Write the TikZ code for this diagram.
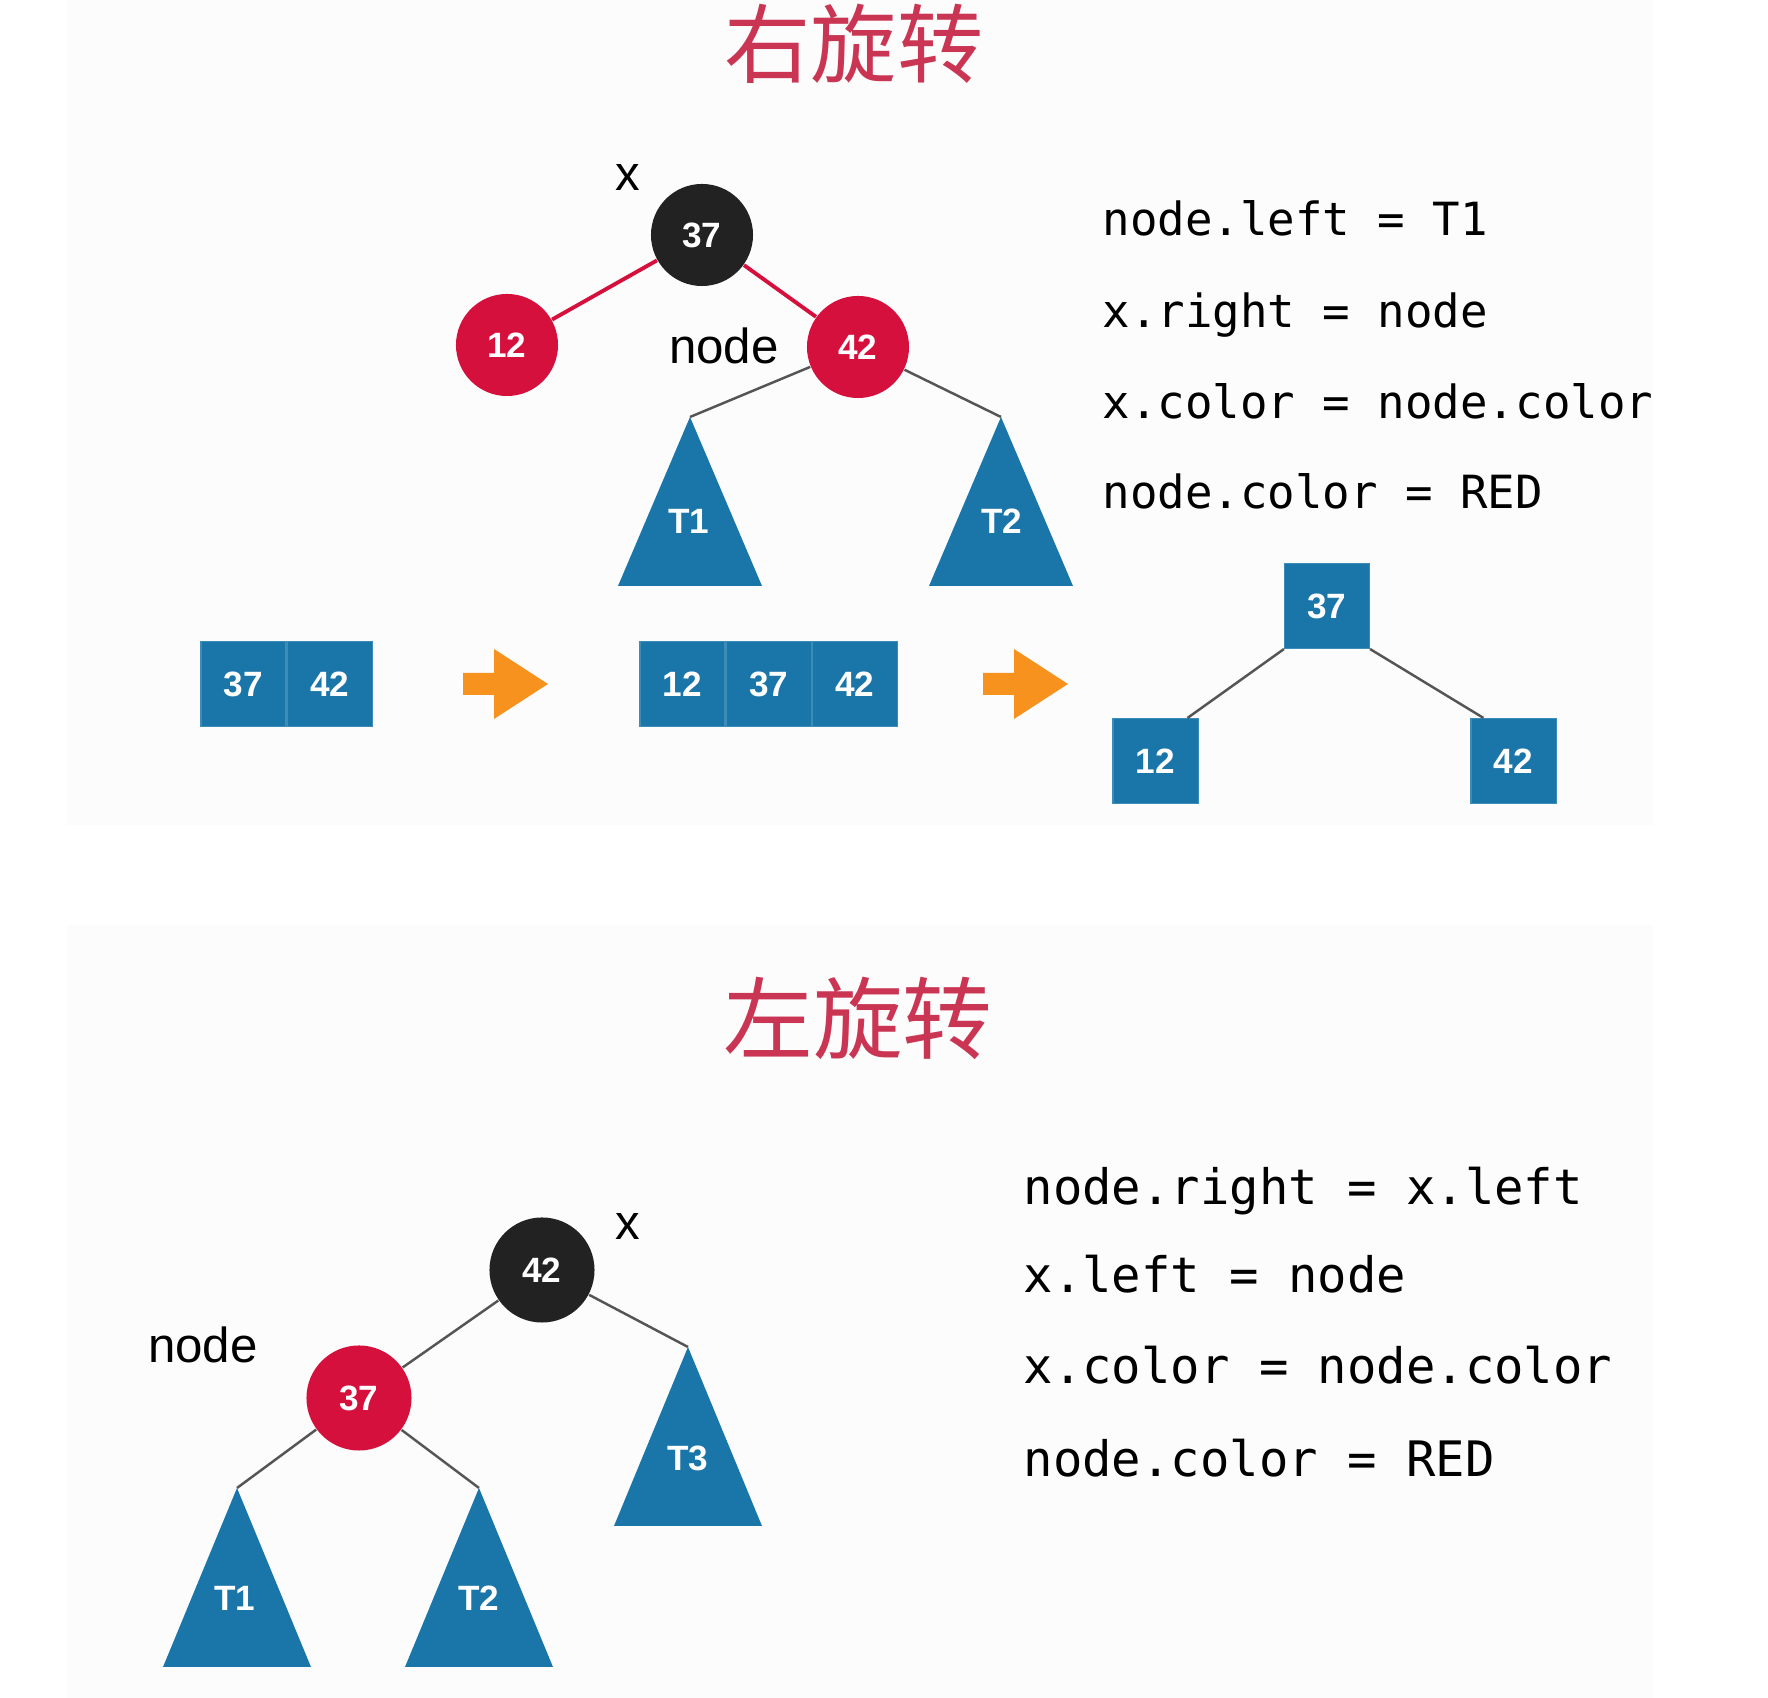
\documentclass[tikz,border=0pt]{standalone}
\usepackage{fontspec}
\setmainfont{Liberation Sans}
\newfontfamily\cjk{Noto Sans CJK SC}
\newfontfamily\mono{DejaVu Sans Mono}
\usetikzlibrary{calc,positioning}

\definecolor{rbred}{RGB}{214,16,60}
\definecolor{rbblack}{RGB}{34,34,34}
\definecolor{subblue}{RGB}{26,117,168}
\definecolor{cellline}{RGB}{60,140,185}
\definecolor{arrorange}{RGB}{247,146,30}
\definecolor{titlered}{RGB}{201,53,82}
\definecolor{edgegray}{RGB}{85,85,85}
\definecolor{panel}{RGB}{252,252,253}

\tikzset{
  rbnode/.style={circle, minimum size=1.02cm, inner sep=0pt, text=white,
    font=\fontsize{10}{12}\selectfont\bfseries},
  blacknode/.style={rbnode, fill=rbblack},
  rednode/.style={rbnode, fill=rbred},
  cell/.style={rectangle, fill=subblue, draw=cellline, line width=0.3pt,
    minimum size=0.85cm, inner sep=0pt, text=white,
    font=\fontsize{10}{12}\selectfont\bfseries},
  sublabel/.style={text=white, font=\fontsize{10}{12}\selectfont\bfseries},
  redge/.style={rbred, line width=1.1pt},
  gedge/.style={edgegray, line width=0.7pt},
  code/.style={anchor=base west, inner sep=0pt, font=\mono\fontsize{13}{16}\selectfont},
  titletext/.style={text=titlered, font=\cjk\fontsize{24.5}{28}\selectfont},
  lbl/.style={font=\fontsize{14}{16}\selectfont}
}

\begin{document}
\begin{tikzpicture}[x=0.01cm, y=-0.01cm]
    \useasboundingbox (0,0) rectangle (1768,1698);
    \fill[panel] (67,0) rectangle (1653,825);
    \fill[panel] (67,925) rectangle (1653,1698);

    % right rotation
    \node [titletext] (tr) at (854,44) {右旋转};

    \node [blacknode] (r37) at (702,235) {37};
    \node [rednode] (r12) at (507,345) {12};
    \node [rednode] (r42) at (858,347) {42};
    \node [lbl] (rx) at (628,178) {x};
    \node [lbl] (rnode) at (724,346) {node};

    \foreach \n/\x in {rt1/690, rt2/1001} {
        \fill[subblue] (\x,417) -- ++(-72,169) -- ++(144,0) -- cycle;
        \coordinate (\n) at (\x,417);
    }
    \node [sublabel] (rl1) at (689,521) {T1};
    \node [sublabel] (rl2) at (1002,521) {T2};

    \draw [redge] (r37) -- (r12);
    \draw [redge] (r37) -- (r42);
    \draw [gedge] (r42) -- (rt1);
    \draw [gedge] (r42) -- (rt2);

    \node [code] (c1) at (1102,236) {node.left = T1};
    \node [code] (c2) at (1102,328) {x.right = node};
    \node [code] (c3) at (1102,419) {x.color = node.color};
    \node [code] (c4) at (1102,509) {node.color = RED};

    % arrays and the small tree
    \node [cell] (a37) at (243.5,684) {37};
    \node [cell, right=0pt of a37] (a42) {42};

    \node [cell] (b12) at (682.5,684) {12};
    \node [cell, right=0pt of b12] (b37) {37};
    \node [cell, right=0pt of b37] (b42) {42};

    \foreach \x in {463,983} {
        \fill[arrorange] (\x,673) -- ++(31,0) -- ++(0,-24) -- ++(54,35)
            -- ++(-54,35) -- ++(0,-24) -- ++(-31,0) -- cycle;
    }

    \node [cell] (s37) at (1327,606) {37};
    \node [cell] (s12) at (1155.5,761) {12};
    \node [cell] (s42) at (1513.5,761) {42};
    \draw [gedge] (s37.south west) -- ($(s12.north east)+(-11,0)$);
    \draw [gedge] (s37.south east) -- ($(s42.north west)+(13,0)$);

    % left rotation
    \node [titletext, font=\cjk\fontsize{25.5}{30}\selectfont] (tl) at (858,1018) {左旋转};

    \node [blacknode, minimum size=1.05cm] (l42) at (542,1270) {42};
    \node [rednode, minimum size=1.05cm] (l37) at (359,1398) {37};
    \node [lbl] (lx) at (628,1227) {x};
    \node [lbl] (lnode) at (203,1345) {node};

    \foreach \n/\x/\y in {lt1/237/1488, lt2/479/1488, lt3/688/1347} {
        \fill[subblue] (\x,\y) -- ++(-74,179) -- ++(148,0) -- cycle;
        \coordinate (\n) at (\x,\y);
    }
    \node [sublabel] (ll1) at (235,1598) {T1};
    \node [sublabel] (ll2) at (479,1598) {T2};
    \node [sublabel] (ll3) at (688,1458) {T3};

    \draw [gedge] (l42) -- (l37);
    \draw [gedge] (l42) -- (lt3);
    \draw [gedge] (l37) -- (lt1);
    \draw [gedge] (l37) -- (lt2);

    \node [code, font=\mono\fontsize{13.9}{16}\selectfont] (d1) at (1023,1205) {node.right = x.left};
    \node [code, font=\mono\fontsize{13.9}{16}\selectfont] (d2) at (1023,1293) {x.left = node};
    \node [code, font=\mono\fontsize{13.9}{16}\selectfont] (d3) at (1023,1384) {x.color = node.color};
    \node [code, font=\mono\fontsize{13.9}{16}\selectfont] (d4) at (1023,1477) {node.color = RED};
\end{tikzpicture}
\end{document}
